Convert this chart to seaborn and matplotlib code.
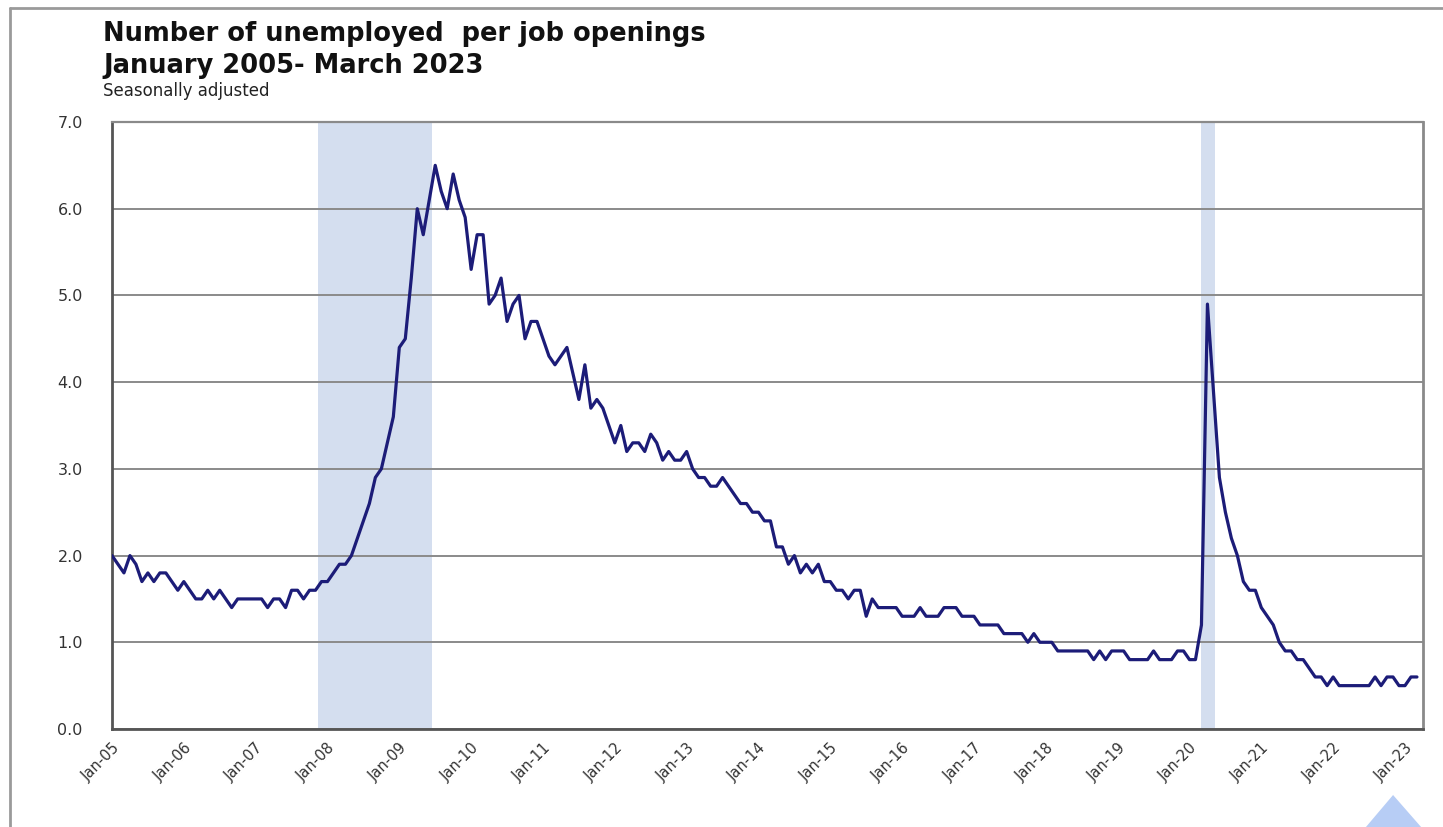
import numpy as np
import pandas as pd
import matplotlib
matplotlib.use("Agg")
import matplotlib.pyplot as plt
import seaborn as sns
from matplotlib.lines import Line2D
from matplotlib.patches import Polygon

# ---- data (monthly, Jan 2005 - Mar 2023) ----
y2005 = [2.0, 1.9, 1.8, 2.0, 1.9, 1.7, 1.8, 1.7, 1.8, 1.8, 1.7, 1.6]
y2006 = [1.7, 1.6, 1.5, 1.5, 1.6, 1.5, 1.6, 1.5, 1.4, 1.5, 1.5, 1.5]
y2007 = [1.5, 1.5, 1.4, 1.5, 1.5, 1.4, 1.6, 1.6, 1.5, 1.6, 1.6, 1.7]
y2008 = [1.7, 1.8, 1.9, 1.9, 2.0, 2.2, 2.4, 2.6, 2.9, 3.0, 3.3, 3.6]
y2009 = [4.4, 4.5, 5.2, 6.0, 5.7, 6.1, 6.5, 6.2, 6.0, 6.4, 6.1, 5.9]
y2010 = [5.3, 5.7, 5.7, 4.9, 5.0, 5.2, 4.7, 4.9, 5.0, 4.5, 4.7, 4.7]
y2011 = [4.5, 4.3, 4.2, 4.3, 4.4, 4.1, 3.8, 4.2, 3.7, 3.8, 3.7, 3.5]
y2012 = [3.3, 3.5, 3.2, 3.3, 3.3, 3.2, 3.4, 3.3, 3.1, 3.2, 3.1, 3.1]
y2013 = [3.2, 3.0, 2.9, 2.9, 2.8, 2.8, 2.9, 2.8, 2.7, 2.6, 2.6, 2.5]
y2014 = [2.5, 2.4, 2.4, 2.1, 2.1, 1.9, 2.0, 1.8, 1.9, 1.8, 1.9, 1.7]
y2015 = [1.7, 1.6, 1.6, 1.5, 1.6, 1.6, 1.3, 1.5, 1.4, 1.4, 1.4, 1.4]
y2016 = [1.3, 1.3, 1.3, 1.4, 1.3, 1.3, 1.3, 1.4, 1.4, 1.4, 1.3, 1.3]
y2017 = [1.3, 1.2, 1.2, 1.2, 1.2, 1.1, 1.1, 1.1, 1.1, 1.0, 1.1, 1.0]
y2018 = [1.0, 1.0, 0.9, 0.9, 0.9, 0.9, 0.9, 0.9, 0.8, 0.9, 0.8, 0.9]
y2019 = [0.9, 0.9, 0.8, 0.8, 0.8, 0.8, 0.9, 0.8, 0.8, 0.8, 0.9, 0.9]
y2020 = [0.8, 0.8, 1.2, 4.9, 3.9, 2.9, 2.5, 2.2, 2.0, 1.7, 1.6, 1.6]
y2021 = [1.4, 1.3, 1.2, 1.0, 0.9, 0.9, 0.8, 0.8, 0.7, 0.6, 0.6, 0.5]
y2022 = [0.6, 0.5, 0.5, 0.5, 0.5, 0.5, 0.5, 0.6, 0.5, 0.6, 0.6, 0.5]
y2023 = [0.5, 0.6, 0.6]

tick_labels = ["Jan-05", "Jan-06", "Jan-07", "Jan-08", "Jan-09", "Jan-10",
               "Jan-11", "Jan-12", "Jan-13", "Jan-14", "Jan-15", "Jan-16",
               "Jan-17", "Jan-18", "Jan-19", "Jan-20", "Jan-21", "Jan-22",
               "Jan-23"]
y_ticks = [0.0, 1.0, 2.0, 3.0, 4.0, 5.0, 6.0, 7.0]

# recessions as month-index spans (Dec 2007 - Jun 2009, Mar - Apr 2020)
recessions = [(34.5, 53.5), (182.0, 184.3)]

values = (y2005 + y2006 + y2007 + y2008 + y2009 + y2010 + y2011 + y2012 +
          y2013 + y2014 + y2015 + y2016 + y2017 + y2018 + y2019 + y2020 +
          y2021 + y2022 + y2023)
df = pd.DataFrame({"month": np.arange(len(values)), "ratio": values})

# ---- plot ----
sns.set_theme(style="white")
plt.rcParams['font.family'] = ['DejaVu Sans']

fig = plt.figure(figsize=(14.43, 8.27), dpi=100)
ax = fig.add_axes([0.0776, 0.1185, 0.9085, 0.734])

for s, e in recessions:
    ax.axvspan(s, e, color="#d4deef", lw=0, zorder=0)

for yt in y_ticks:
    ax.axhline(yt, color="#8a8a8a", lw=1.4, zorder=1)

sns.lineplot(data=df, x="month", y="ratio", ax=ax, color="#1c1c78",
             lw=2.3, zorder=3)

ax.set_xlim(0, 219)
ax.set_ylim(0, 7.0)
ax.set_yticks(y_ticks)
ax.set_yticklabels([f"{v:.1f}" for v in y_ticks], fontsize=11.5, color="#333333")
ax.set_xticks(np.arange(len(tick_labels)) * 12)
ax.set_xticklabels(tick_labels, rotation=45, ha="right",
                   rotation_mode="anchor", fontsize=10.5, color="#333333")
ax.tick_params(axis="x", direction="in", length=4, color="#888888", pad=8)
ax.tick_params(axis="y", length=5, color="#666666", pad=16, direction="out")
ax.set_xlabel("")
ax.set_ylabel("")

for side in ["left", "bottom"]:
    ax.spines[side].set_color("#555555")
    ax.spines[side].set_linewidth(2)
ax.spines["right"].set_color("#8a8a8a")
ax.spines["right"].set_linewidth(2)
ax.spines["top"].set_color("#8a8a8a")
ax.spines["top"].set_linewidth(1.6)

# titles
fig.text(0.0714, 0.951, "Number of unemployed  per job openings",
         fontsize=18.5, fontweight="bold", color="#111111", va="baseline")
fig.text(0.0714, 0.912, "January 2005- March 2023",
         fontsize=18.5, fontweight="bold", color="#111111", va="baseline")
fig.text(0.0714, 0.884, "Seasonally adjusted",
         fontsize=12, color="#222222", va="baseline")

# outer frame
fig.add_artist(Line2D([0.0069, 1.0], [0.9903, 0.9903], transform=fig.transFigure,
                      color="#9a9a9a", lw=2))
fig.add_artist(Line2D([0.0069, 0.0069], [0.0, 0.9903], transform=fig.transFigure,
                      color="#9a9a9a", lw=2))

# light blue marker triangle at bottom right
fig.add_artist(Polygon([[0.9466, 0.0], [0.9654, 0.0387], [0.9848, 0.0]],
                       closed=True, transform=fig.transFigure,
                       facecolor="#b7cdf5", edgecolor="none"))

fig.savefig("out.png", dpi=100)
